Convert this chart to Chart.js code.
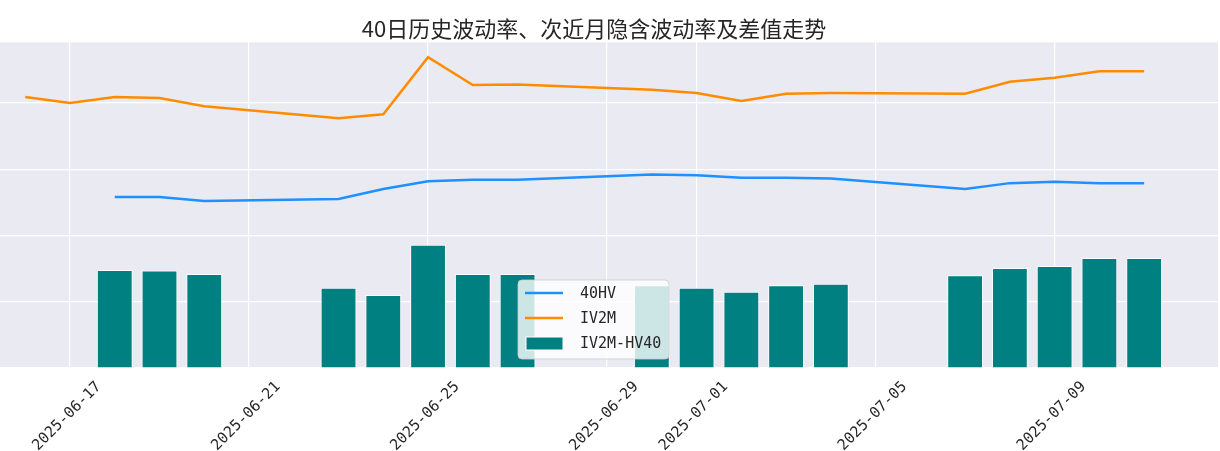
<!DOCTYPE html>
<html>
<head>
<meta charset="utf-8">
<script src="https://cdn.jsdelivr.net/npm/chart.js@4/dist/chart.umd.min.js"></script>
<style>
  html, body { margin: 0; padding: 0; background: #ffffff; }
  #wrap { width: 1220px; height: 451px; }
</style>
</head>
<body>
<div id="wrap"><canvas id="volChart" width="1220" height="451"></canvas></div>
<script>
const titleText = '40日历史波动率、次近月隐含波动率及差值走势';

// IV2M line (from 2025-06-16)
const ivDates = ['2025-06-16', '2025-06-17', '2025-06-18', '2025-06-19', '2025-06-20',
  '2025-06-23', '2025-06-24', '2025-06-25', '2025-06-26', '2025-06-27',
  '2025-06-30', '2025-07-01', '2025-07-02', '2025-07-03', '2025-07-04',
  '2025-07-07', '2025-07-08', '2025-07-09', '2025-07-10', '2025-07-11'];
const iv2m = [40.9, 40.0, 40.9, 40.75, 39.5, 37.7, 38.3, 46.9, 42.7, 42.8,
  42.0, 41.5, 40.3, 41.4, 41.5, 41.4, 43.2, 43.8, 44.8, 44.8];

// 40HV line and the spread bars (from 2025-06-18)
const hvDates = ivDates.slice(2);
const hv40 = [25.8, 25.8, 25.2, 25.5, 27.0, 28.2, 28.4, 28.4,
  29.2, 29.1, 28.7, 28.7, 28.6, 27.0, 27.9, 28.1, 27.9, 27.9];
const spread = [14.8, 14.7, 14.2, 12.1, 11.0, 18.6, 14.2, 14.2,
  12.5, 12.1, 11.5, 12.5, 12.7, 14.0, 15.1, 15.4, 16.6, 16.6];

const tickDates = ['2025-06-17', '2025-06-21', '2025-06-25', '2025-06-29',
  '2025-07-01', '2025-07-05', '2025-07-09'];

// dates -> day numbers, counted from 2025-06-17
const base = Date.UTC(2025, 5, 17);
function dayNum(s) {
  const [y, m, d] = s.split('-').map(Number);
  return (Date.UTC(y, m - 1, d) - base) / 86400000;
}
function dayLabel(v) {
  const d = new Date(base + v * 86400000);
  return d.toISOString().slice(0, 10);
}
const pts = (dates, vals) => dates.map((s, i) => ({ x: dayNum(s), y: vals[i] }));

const bgPlugin = {
  id: 'panelBg',
  beforeDraw(chart) {
    const { ctx, chartArea: a } = chart;
    ctx.save();
    ctx.fillStyle = '#EAEAF2';
    ctx.fillRect(a.left, a.top, a.right - a.left, a.bottom - a.top);
    ctx.restore();
  }
};

const titlePlugin = {
  id: 'customTitle',
  afterDraw(chart) {
    const ctx = chart.ctx;
    ctx.save();
    ctx.fillStyle = '#262626';
    ctx.font = '22px "Noto Sans CJK SC", sans-serif';
    ctx.textAlign = 'center';
    ctx.textBaseline = 'middle';
    ctx.fillText(titleText, 594, 29);
    ctx.restore();
  }
};

// legend box sitting inside the plot, like matplotlib's 'best' location
const legendPlugin = {
  id: 'innerLegend',
  afterDraw(chart) {
    const ctx = chart.ctx;
    const x0 = 518, y0 = 280, w = 151, h = 79;
    ctx.save();
    ctx.beginPath();
    ctx.roundRect(x0, y0, w, h, 4);
    ctx.fillStyle = 'rgba(255,255,255,0.8)';
    ctx.fill();
    ctx.strokeStyle = 'rgba(204,204,204,0.8)';
    ctx.lineWidth = 1;
    ctx.stroke();

    const items = chart.data.datasets;
    const rows = [293, 318, 343];
    ctx.font = '15px "DejaVu Sans Mono", monospace';
    ctx.textBaseline = 'middle';
    items.forEach((ds, i) => {
      const y = rows[i];
      if (ds.type === 'line') {
        ctx.strokeStyle = ds.borderColor;
        ctx.lineWidth = 2.5;
        ctx.beginPath();
        ctx.moveTo(525, y);
        ctx.lineTo(563, y);
        ctx.stroke();
      } else {
        ctx.fillStyle = ds.backgroundColor;
        ctx.fillRect(526, y - 6, 37, 13);
        ctx.strokeStyle = '#ffffff';
        ctx.lineWidth = 1;
        ctx.strokeRect(526, y - 6, 37, 13);
      }
      ctx.fillStyle = '#262626';
      ctx.fillText(ds.label, 580, y + 1);
    });
    ctx.restore();
  }
};

const ctx = document.getElementById('volChart').getContext('2d');
new Chart(ctx, {
  type: 'bar',
  data: {
    datasets: [
      {
        type: 'line',
        label: '40HV',
        data: pts(hvDates, hv40),
        borderColor: '#1E90FF',
        borderWidth: 2.5,
        pointRadius: 0,
        tension: 0,
        order: 1
      },
      {
        type: 'line',
        label: 'IV2M',
        data: pts(ivDates, iv2m),
        borderColor: '#FF8C00',
        borderWidth: 2.5,
        pointRadius: 0,
        tension: 0,
        order: 1
      },
      {
        type: 'bar',
        label: 'IV2M-HV40',
        data: pts(hvDates, spread),
        backgroundColor: '#008080',
        borderColor: '#ffffff',
        borderWidth: 1,
        barPercentage: 0.8,
        categoryPercentage: 1,
        order: 2
      }
    ]
  },
  options: {
    responsive: false,
    animation: false,
    layout: { padding: { left: 0, right: 2, top: 42, bottom: 0 } },
    plugins: {
      legend: { display: false },
      title: { display: false },
      tooltip: { enabled: false }
    },
    scales: {
      x: {
        type: 'linear',
        offset: false,
        min: -1.564,
        max: 25.65,
        afterBuildTicks(scale) {
          scale.ticks = tickDates.map(s => ({ value: dayNum(s) }));
        },
        afterFit(scale) {
          scale.height = 83;
          scale.paddingLeft = 0;
          scale.paddingRight = 0;
        },
        grid: { color: '#ffffff', lineWidth: 1.2, drawTicks: false, offset: false },
        border: { display: false },
        ticks: {
          autoSkip: false,
          minRotation: 45,
          maxRotation: 45,
          labelOffset: 29,
          padding: 10,
          color: '#262626',
          font: { family: '"DejaVu Sans Mono", monospace', size: 15 },
          callback: v => dayLabel(v)
        }
      },
      y: {
        min: 0,
        max: 49.2,
        afterFit(scale) { scale.width = 0; },
        grid: { color: '#ffffff', lineWidth: 1.2, drawTicks: false },
        border: { display: false },
        ticks: { display: false, stepSize: 10 }
      }
    }
  },
  plugins: [bgPlugin, titlePlugin, legendPlugin]
});
</script>
</body>
</html>
